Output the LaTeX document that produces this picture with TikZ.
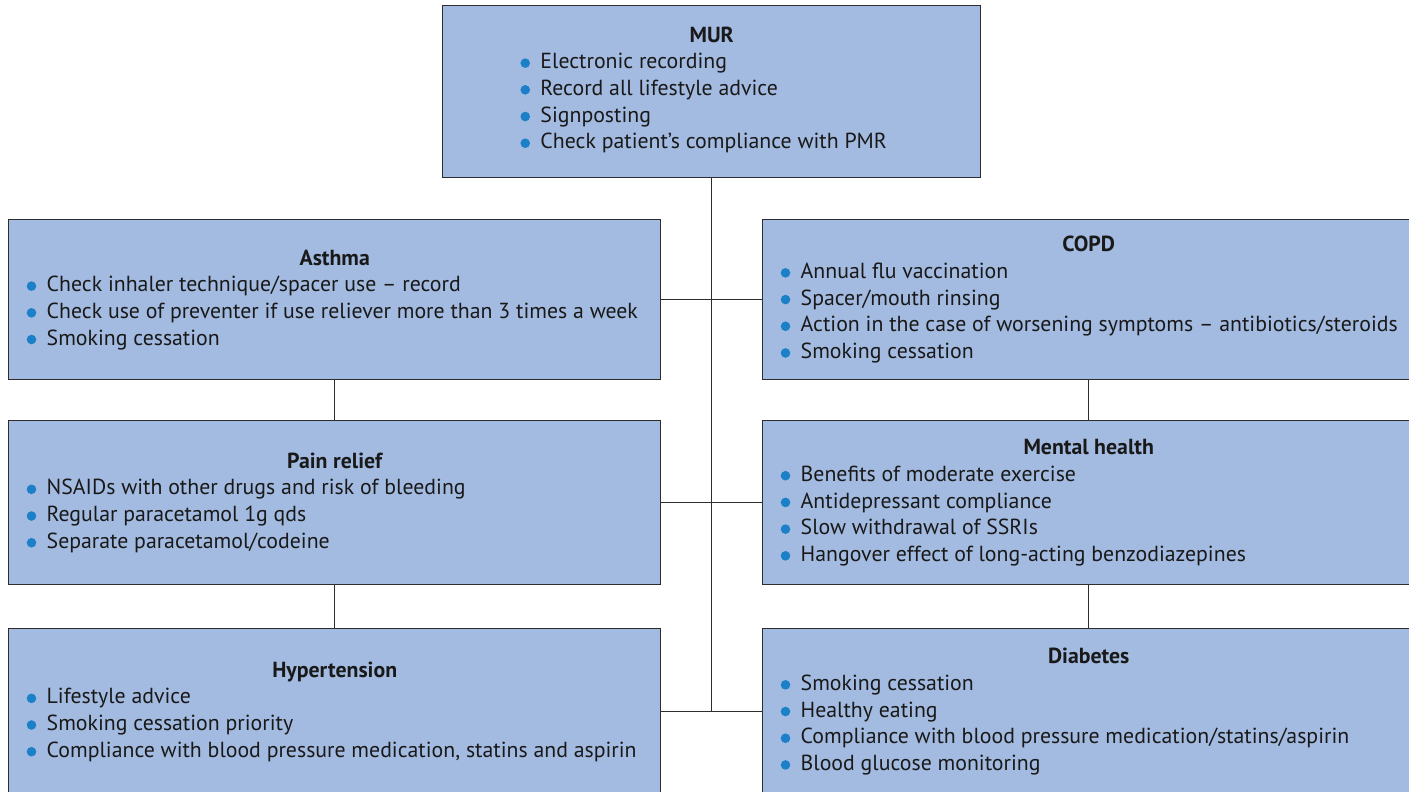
\documentclass[tikz,border=0pt]{standalone}
\usepackage{fontspec}
\setmainfont{PT Sans}
\definecolor{boxfill}{RGB}{163,187,225}
\definecolor{boxline}{RGB}{45,45,45}
\definecolor{bulletblue}{RGB}{28,128,200}
\newcommand\bul{\makebox[20pt][l]{\tikz[baseline=-5.6pt]\fill[bulletblue] (4.8pt,0) circle (4.8pt);}}
\newcommand\titled[2]{\begin{minipage}{616pt}\fontsize{21.8pt}{26.7pt}\selectfont{\centering\bfseries #1\par}#2\end{minipage}}
\newcommand\itm[1]{\noindent\bul\mbox{#1}\par}
\begin{document}
\begin{tikzpicture}[x=1pt,y=-1pt,
  box/.style={draw=boxline,line width=1.4pt,fill=boxfill,anchor=north west,inner sep=0pt,minimum width=652pt,text=black!90},
  conn/.style={draw=boxline,line width=1.4pt}]
\useasboundingbox (0,0) rectangle (1409,792);
\node[box,minimum width=538pt,minimum height=172pt] (mur) at (442,5) {\begin{minipage}{500pt}\fontsize{21.8pt}{26.7pt}\selectfont{\centering\bfseries MUR\par}{\centering\hspace*{-16pt}\begin{tabular}[t]{@{}l@{}}\bul Electronic recording\\ \bul Record all lifestyle advice\\ \bul Signposting\\ \bul Check patient’s compliance with PMR\end{tabular}\par}\end{minipage}};
\node[box,minimum height=160pt] (asthma) at (8,219) {\titled{Asthma}{\itm{Check inhaler technique/spacer use – record}\itm{Check use of preventer if use reliever more than 3 times a week}\itm{Smoking cessation}}};
\node[box,minimum height=160pt] (copd) at (762,219) {\titled{COPD}{\itm{Annual flu vaccination}\itm{Spacer/mouth rinsing}\itm{Action in the case of worsening symptoms – antibiotics/steroids}\itm{Smoking cessation}}};
\node[box,minimum height=164pt] (pain) at (8,420) {\titled{Pain relief}{\itm{NSAIDs with other drugs and risk of bleeding}\itm{Regular paracetamol 1g qds}\itm{Separate paracetamol/codeine}}};
\node[box,minimum height=164pt] (mental) at (762,420) {\titled{Mental health}{\itm{Benefits of moderate exercise}\itm{Antidepressant compliance}\itm{Slow withdrawal of SSRIs}\itm{Hangover effect of long-acting benzodiazepines}}};
\node[box,minimum height=166pt] (hyper) at (8,628) {\titled{Hypertension}{\itm{Lifestyle advice}\itm{Smoking cessation priority}\itm{Compliance with blood pressure medication, statins and aspirin}}};
\node[box,minimum height=166pt] (diab) at (762,628) {\titled{Diabetes}{\itm{Smoking cessation}\itm{Healthy eating}\itm{Compliance with blood pressure medication/statins/aspirin}\itm{Blood glucose monitoring}}};
\path[conn] (mur.south) -- (mur.south |- hyper.east);
\path[conn] (asthma.east) -- (copd.west);
\path[conn] (pain.east) -- (mental.west);
\path[conn] (hyper.east) -- (diab.west);
\path[conn] (asthma.south) -- (pain.north);
\path[conn] (pain.south) -- (hyper.north);
\path[conn] (copd.south) -- (mental.north);
\path[conn] (mental.south) -- (diab.north);
\end{tikzpicture}
\end{document}
